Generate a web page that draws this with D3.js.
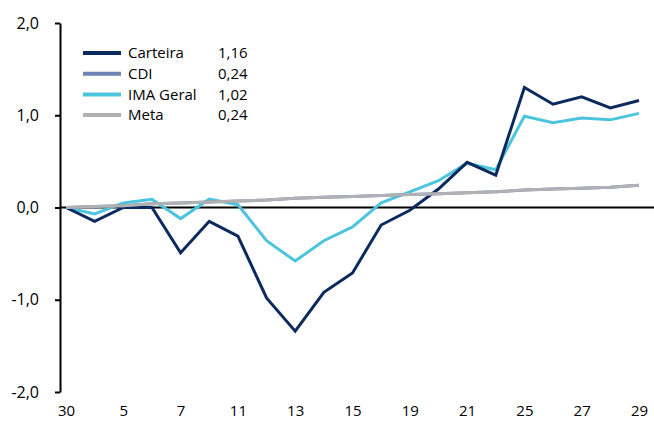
<!DOCTYPE html>
<html>
<head>
<meta charset="utf-8">
<script src="https://cdn.jsdelivr.net/npm/d3@7"></script>
<style>
  body { margin: 0; background: #fff; }
  text { font-family: "Open Sans", "Noto Sans", sans-serif; fill: #000; }
</style>
</head>
<body>
<div id="container"></div>
<script>
/***** data *****/
let days = ["30","4","5","6","7","8","11","12","13","14","15","18","19","20","21","22","25","26","27","28","29"];
let carteira = [0, -0.15, 0.0, 0.0, -0.49, -0.15, -0.31, -0.98, -1.34, -0.92, -0.71, -0.19, -0.03, 0.20, 0.49, 0.35, 1.30, 1.12, 1.20, 1.08, 1.16];
let cdi = [0, 0.01, 0.02, 0.04, 0.05, 0.06, 0.07, 0.08, 0.10, 0.11, 0.12, 0.13, 0.14, 0.15, 0.16, 0.17, 0.19, 0.20, 0.21, 0.22, 0.24];
let imaGeral = [0, -0.07, 0.05, 0.09, -0.12, 0.09, 0.03, -0.36, -0.58, -0.36, -0.21, 0.05, 0.17, 0.29, 0.48, 0.41, 0.99, 0.92, 0.97, 0.95, 1.02];
let meta = [0, 0.01, 0.02, 0.04, 0.05, 0.06, 0.07, 0.08, 0.10, 0.11, 0.12, 0.13, 0.14, 0.15, 0.16, 0.17, 0.19, 0.20, 0.21, 0.22, 0.24];
let yTicks = [-2, -1, 0, 1, 2];

let series = [
  {name: "Carteira", values: carteira, last: "1,16", color: "#0c2a5e"},
  {name: "CDI", values: cdi, last: "0,24", color: "#6d82b5"},
  {name: "IMA Geral", values: imaGeral, last: "1,02", color: "#4dc4de"},
  {name: "Meta", values: meta, last: "0,24", color: "#b1b1b4"}
];

/***** chart *****/
var width = 654, height = 425;

let svg = d3.select("#container")
  .append("svg")
    .attr("width", width)
    .attr("height", height);

var x = d3.scalePoint()
  .domain(d3.range(days.length))
  .range([66, 639]);

var y = d3.scaleLinear()
  .domain([-2, 2])
  .range([392, 23]);

let comma = d => d3.format(".1f")(d).replace(".", ",").replace("−", "-");

// Y axis
let yAxis = svg.append("g")
  .attr("transform", "translate(60,0)")
  .call(d3.axisLeft(y).tickValues(yTicks).tickFormat(comma).tickSize(5).tickSizeOuter(0).tickPadding(16));
yAxis.select(".domain").attr("stroke", "#000").attr("stroke-width", 2);
yAxis.selectAll(".tick line").attr("stroke", "#000").attr("stroke-width", 2);
yAxis.selectAll("text").style("font-size", "16px").attr("fill", "#000");

// X labels (every other day)
let xAxis = svg.append("g")
  .attr("transform", "translate(0,392)")
  .call(d3.axisBottom(x).tickValues(d3.range(0, days.length, 2)).tickFormat(i => days[i]).tickSize(0).tickPadding(13));
xAxis.select(".domain").remove();
xAxis.selectAll("text").style("font-size", "15px").attr("fill", "#000");

// zero line
svg.append("line")
  .attr("x1", 60).attr("x2", width)
  .attr("y1", y(0)).attr("y2", y(0))
  .attr("stroke", "#000")
  .attr("stroke-width", 2);

// lines
let line = d3.line()
  .x((d, i) => x(i))
  .y(d => y(d));

let drawOrder = [2, 0, 1, 3];
drawOrder.forEach(k => {
  let s = series[k];
  svg.append("path")
    .datum(s.values)
    .attr("fill", "none")
    .attr("stroke", s.color)
    .attr("stroke-width", 3)
    .attr("stroke-linejoin", "miter")
    .attr("d", line);
});

// legend
let legend = svg.append("g");
series.forEach((s, i) => {
  let ly = 53 + i * 20.7;
  legend.append("line")
    .attr("x1", 83).attr("x2", 121)
    .attr("y1", ly).attr("y2", ly)
    .attr("stroke", s.color)
    .attr("stroke-width", 4);
  legend.append("text")
    .attr("x", 128).attr("y", ly)
    .attr("dy", "0.35em")
    .style("font-size", "15px")
    .text(s.name);
  legend.append("text")
    .attr("x", 218).attr("y", ly)
    .attr("dy", "0.35em")
    .style("font-size", "15px")
    .text(s.last);
});
</script>
</body>
</html>
